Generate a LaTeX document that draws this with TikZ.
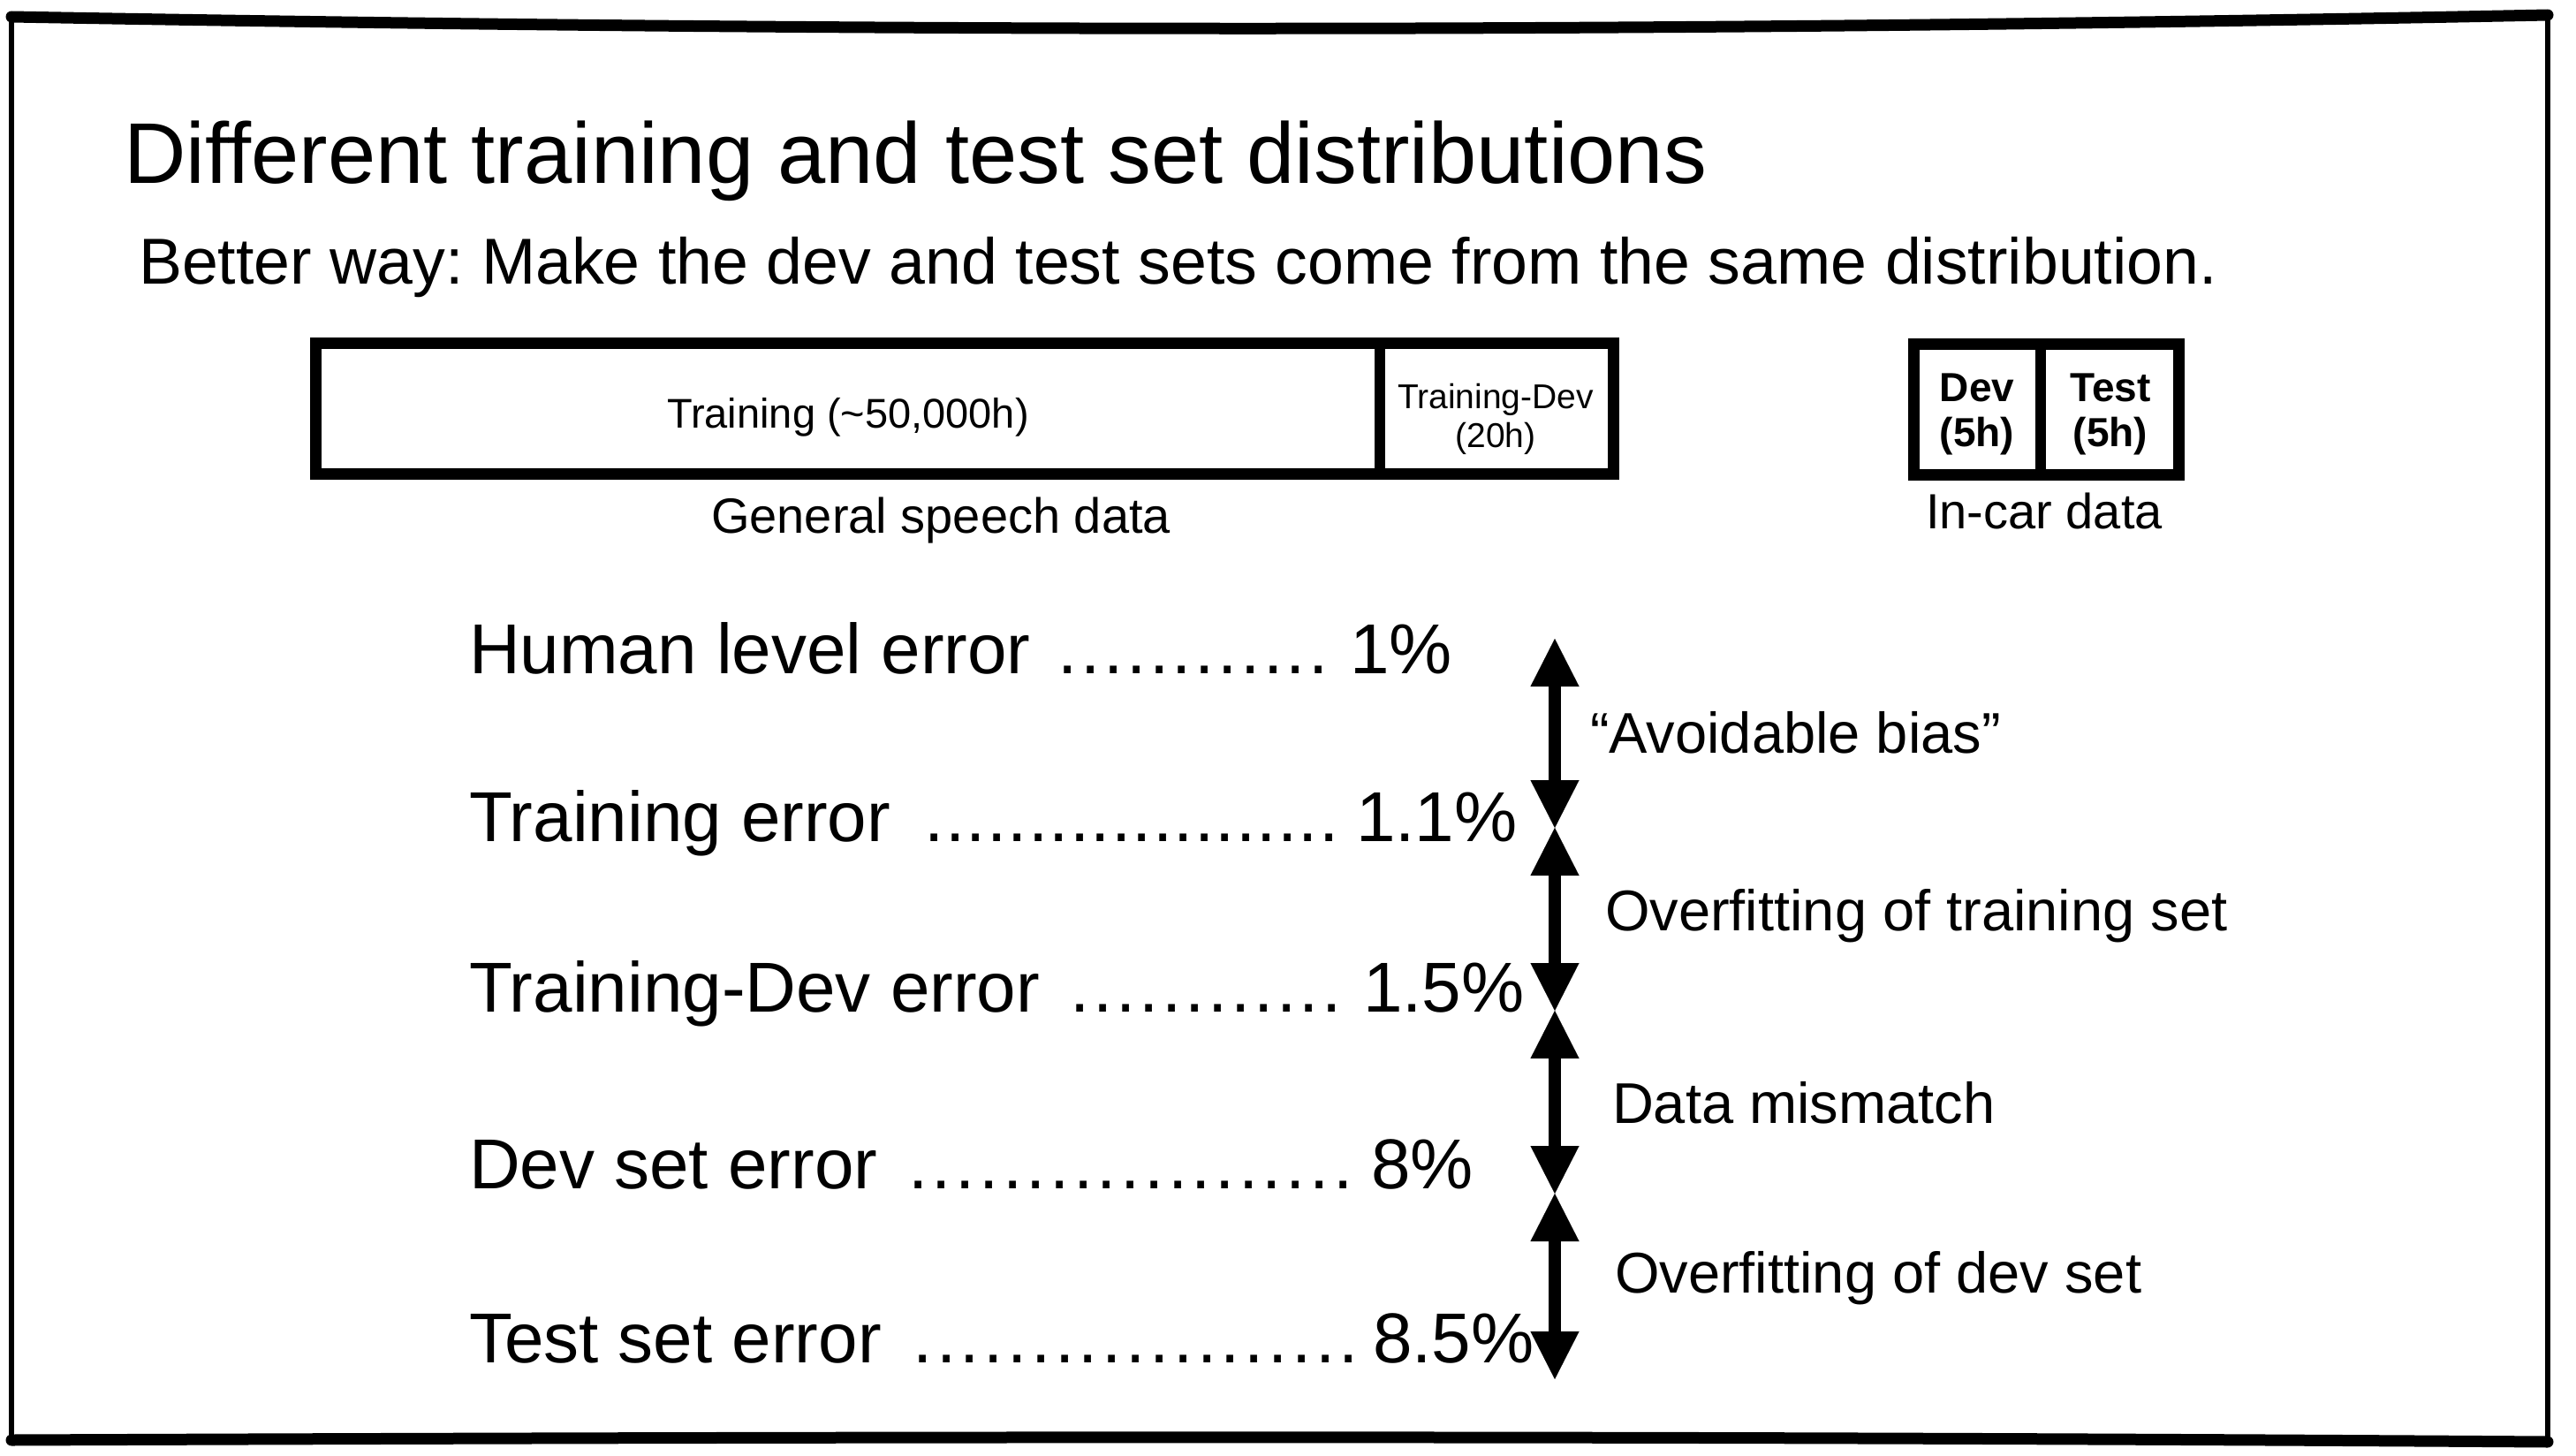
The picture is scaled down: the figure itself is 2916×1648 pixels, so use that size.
\documentclass[tikz,border=0pt]{standalone}
\usepackage{fontspec}
\setmainfont{Liberation Sans}
\usetikzlibrary{arrows.meta}
\frenchspacing
\newcount\dotcnt
\newcommand{\dotrow}[2]{\dotcnt=0 \loop\ifnum\dotcnt<#1 \hbox to #2{\hss.\hss}\advance\dotcnt by 1 \repeat}
\newcommand{\fsz}[1]{\fontsize{#1pt}{#1pt}\selectfont}
\tikzset{
  txt/.style={inner sep=0pt, outer sep=0pt},
  errtxt/.style={txt, anchor=base west, font=\fsz{80}},
  dottxt/.style={txt, anchor=base west, font=\fsz{80}},
  sidetxt/.style={txt, anchor=base west, font=\fsz{65}},
  boxline/.style={line width=13pt, line join=miter},
  tipT/.tip={Triangle[length=54pt, width=55pt, line width=0.1pt]},
  dblarrow/.style={line width=14pt, tipT-tipT},
  frameline/.style={line width=13pt, line cap=round},
  sideline/.style={line width=6pt}
}
\begin{document}
\begin{tikzpicture}[x=1pt,y=-1pt]
\useasboundingbox (0,0) rectangle (2916,1648);
\fill[white] (0,0) rectangle (2916,1648);

% frame
\coordinate (ftl) at (13,19);
\coordinate (ftr) at (2884,17);
\coordinate (fbl) at (13,1630);
\coordinate (fbr) at (2884,1632);
\draw[frameline] (ftl) .. controls (1000,37) and (1900,37) .. (ftr);
\draw[frameline] (fbl) .. controls (1000,1626) and (1900,1625) .. (fbr);
\draw[sideline] (ftl) -- (fbl);
\draw[sideline] (ftr) -- (fbr);

% title
\node[txt, anchor=base west, font=\fsz{97.5}] (title) at (140,208) {Different training and test set distributions};
\node[txt, anchor=base west, font=\fsz{73.5}] (sub) at (157,321) {Better way: Make the dev and test sets come from the same distribution.};

% general speech data boxes
\coordinate (g1) at (357,388);
\coordinate (g2) at (1826,536);
\coordinate (gd1) at (1562,388);
\coordinate (gd2) at (1562,536);
\draw[boxline] (g1) rectangle (g2);
\draw[line width=12pt] (gd1) -- (gd2);
\node[txt, font=\fsz{47}] (trbox) at (960,472) {Training (\textasciitilde50,000h)};
\node[txt, font=\fsz{39}, align=center] (tdbox) at (1693,474) {Training-Dev\\[5pt](20h)};
\node[txt, anchor=base, font=\fsz{56}] (gsd) at (1065,603) {General speech data};

% in-car data boxes
\coordinate (c1) at (2166,389);
\coordinate (c2) at (2466,537);
\coordinate (cd1) at (2310,389);
\coordinate (cd2) at (2310,537);
\draw[boxline] (c1) rectangle (c2);
\draw[line width=12pt] (cd1) -- (cd2);
\node[txt, font=\bfseries\fsz{46}, align=center] (devbox) at (2238,469) {Dev\\[5pt](5h)};
\node[txt, font=\bfseries\fsz{46}, align=center] (testbox) at (2389,469) {Test\\[5pt](5h)};
\node[txt, anchor=base, font=\fsz{56}] (icd) at (2314,598) {In-car data};

% error lines
\node[errtxt] (l1) at (531,762) {Human level error};
\node[dottxt] (d1) at (1196,762) {\dotrow{12}{25.8pt}};
\node[errtxt] (v1) at (1528,762) {1\%};

\node[errtxt] (l2) at (531,952) {Training error};
\node[dottxt] (d2) at (1046,952) {\dotrow{20}{23.5pt}};
\node[errtxt] (v2) at (1535,952) {1.1\%};

\node[errtxt] (l3) at (531,1145) {Training-Dev error};
\node[dottxt] (d3) at (1210,1145) {\dotrow{12}{25.9pt}};
\node[errtxt] (v3) at (1543,1145) {1.5\%};

\node[errtxt] (l4) at (531,1345) {Dev set error};
\node[dottxt] (d4) at (1026,1345) {\dotrow{19}{26.7pt}};
\node[errtxt] (v4) at (1552,1345) {8\%};

\node[errtxt] (l5) at (531,1542) {Test set error};
\node[dottxt] (d5) at (1031,1542) {\dotrow{19}{26.8pt}};
\node[errtxt] (v5) at (1554,1542) {8.5\%};

% arrows
\coordinate (a0) at (1760,723);
\coordinate (a1) at (1760,937);
\coordinate (a2) at (1760,1144);
\coordinate (a3) at (1760,1351);
\coordinate (a4) at (1760,1561);
\draw[dblarrow] (a0) -- (a1);
\draw[dblarrow] (a1) -- (a2);
\draw[dblarrow] (a2) -- (a3);
\draw[dblarrow] (a3) -- (a4);

\node[sidetxt] (s1) at (1800,852) {“Avoidable bias”};
\node[sidetxt] (s2) at (1817,1053) {Overfitting of training set};
\node[sidetxt] (s3) at (1825,1271) {Data mismatch};
\node[sidetxt] (s4) at (1828,1463) {Overfitting of dev set};
\end{tikzpicture}
\end{document}
